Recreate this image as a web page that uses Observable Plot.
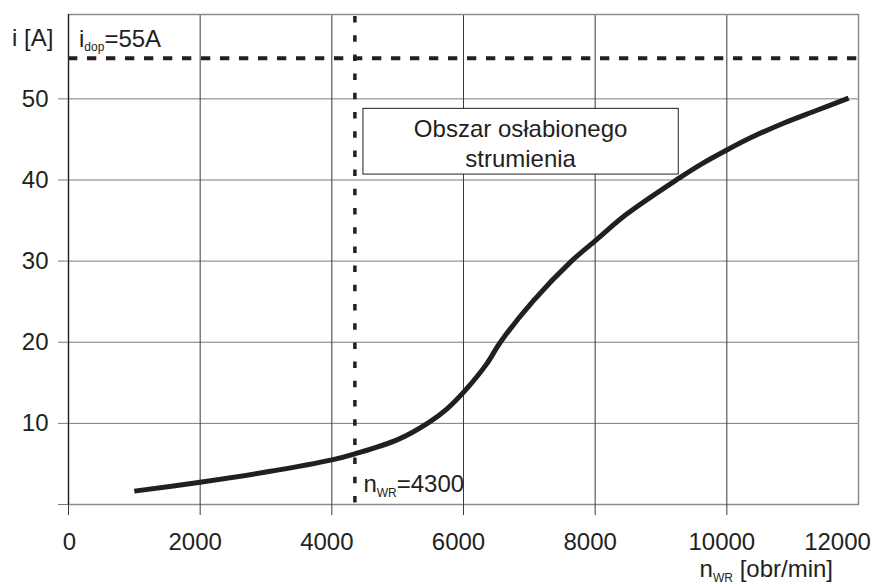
<!DOCTYPE html>
<html><head><meta charset="utf-8">
<script src="https://cdn.jsdelivr.net/npm/d3@7"></script>
<script src="https://cdn.jsdelivr.net/npm/@observablehq/plot@0.6"></script>
<style>
html,body{margin:0;padding:0;background:#fff;}
#chart svg{display:block;}
</style>
</head><body><div id="chart"></div>
<script>
// curve: rotational speed n_WR [obr/min] vs. current i [A]
const speed   = [1000, 2000, 3000, 4000, 4350, 5000, 5470, 5750, 6030, 6350, 6560, 7060, 7640, 8000, 8480, 9270, 9600, 10000, 10360, 10860, 11370, 11850];
const current = [1.65, 2.75, 4.0, 5.5, 6.25, 8.0, 10.1, 11.8, 14.1, 17.3, 20.0, 25.1, 30.0, 32.5, 35.8, 40.2, 41.9, 43.7, 45.2, 47.0, 48.6, 50.1];

const xTicks = [0, 2000, 4000, 6000, 8000, 10000, 12000];
const yTicks = [10, 20, 30, 40, 50];

const iLimit = 55;          // i_dop
const nWRLabel = 4300;      // label value
const nWRLine = 4350;       // drawn position
const boxX = [4480, 9270];  // "Obszar osłabionego strumienia" box
const boxY = [40.67, 48.77];

const ink = "#231f20";
const font = "'Liberation Sans', Arial, Helvetica, sans-serif";

const data = speed.map((n, k) => ({n, i: current[k]}));
const fmt = d => String(d);

const chart = Plot.plot({
  width: 875,
  height: 584,
  marginLeft: 68,
  marginRight: 17,
  marginTop: 14,
  marginBottom: 80,
  x: {domain: [0, 12000]},
  y: {domain: [0, 60.4]},
  style: {fontFamily: font, fontSize: "24px", color: ink, background: "#fff"},
  marks: [
    Plot.ruleY(yTicks, {stroke: "#7a7a7a", strokeWidth: 1}),
    Plot.ruleX(xTicks.slice(1, -1), {stroke: "#3a3a3a", strokeWidth: 1}),
    Plot.frame({stroke: "#8c8c8c", strokeWidth: 1.5}),
    Plot.ruleX([0], {stroke: ink, strokeWidth: 1.2}),
    // y ticks + labels
    Plot.axisY([0, ...yTicks], {tickSize: 10, tickPadding: 10, tickFormat: d => d === 0 ? "" : String(d),
      stroke: "#7a7a7a", fill: ink, label: null, fontSize: 24}),
    // x tick marks
    Plot.axisX(xTicks.slice(0, -1), {tickSize: 11, tickFormat: () => "", stroke: "#3a3a3a", label: null}),
    // x tick labels (offsets as in the figure)
    Plot.axisX(xTicks.slice(0, 1), {tickSize: 0, tickPadding: 28, dx: 1, tickFormat: fmt, fill: ink, label: null, fontSize: 24}),
    Plot.axisX(xTicks.slice(1, -1), {tickSize: 0, tickPadding: 28, dx: -5, tickFormat: fmt, fill: ink, label: null, fontSize: 24}),
    Plot.axisX(xTicks.slice(-1), {tickSize: 0, tickPadding: 28, dx: -21, tickFormat: fmt, fill: ink, label: null, fontSize: 24}),
    // annotation box
    Plot.rect([{}], {x1: boxX[0], x2: boxX[1], y1: boxY[0], y2: boxY[1], fill: "#fff", stroke: ink, strokeWidth: 1}),
    // dashed limits
    Plot.ruleY([iLimit], {x1: 0, x2: 12120, stroke: ink, strokeWidth: 4, strokeDasharray: "9.3,9.7", clip: false}),
    Plot.ruleX([nWRLine], {y1: 60.4, y2: 0, stroke: ink, strokeWidth: 3.5, strokeDasharray: "6.5,12.7", strokeDashoffset: -2}),
    // curve
    Plot.line(data, {x: "n", y: "i", stroke: ink, strokeWidth: 5, curve: "catmull-rom", strokeLinecap: "butt"})
  ]
});

document.getElementById("chart").appendChild(chart);

const sx = chart.scale("x"), sy = chart.scale("y");
const svg = d3.select(chart);

function label(x, y, parts, anchor = "start") {
  const t = svg.append("text")
    .attr("x", x).attr("y", y)
    .attr("text-anchor", anchor)
    .attr("font-family", font)
    .attr("fill", ink);
  let shift = 0;
  for (const [str, sub] of parts) {
    const want = sub ? sub : 0;
    t.append("tspan")
      .attr("dy", want - shift)
      .attr("font-size", sub ? 12 : 24)
      .text(str);
    shift = want;
  }
  return t;
}

// y axis title
label(12, sy.apply(60.4) + 32, [["i [A]"]]);
// i_dop label
label(sx.apply(0) + 11, sy.apply(iLimit) - 11, [["i"], ["dop", 4], ["=" + iLimit + "A"]]);
// n_WR label
label(sx.apply(nWRLine) + 9, sy.apply(0) - 12, [["n"], ["WR", 4.5], ["=" + nWRLabel]]);
// x axis title
label(sx.apply(12000) - 25, sy.apply(0) + 73, [["n"], ["WR", 4.5], [" [obr/min]"]], "end");
// box text
const bx = (sx.apply(boxX[0]) + sx.apply(boxX[1])) / 2;
const by = sy.apply(boxY[1]);
const bt = svg.append("text").attr("text-anchor", "middle").attr("font-family", font)
  .attr("font-size", 24).attr("fill", ink);
bt.append("tspan").attr("x", bx).attr("y", by + 29).text("Obszar osłabionego");
bt.append("tspan").attr("x", bx).attr("y", by + 58.4).text("strumienia");
</script>
</body></html>
